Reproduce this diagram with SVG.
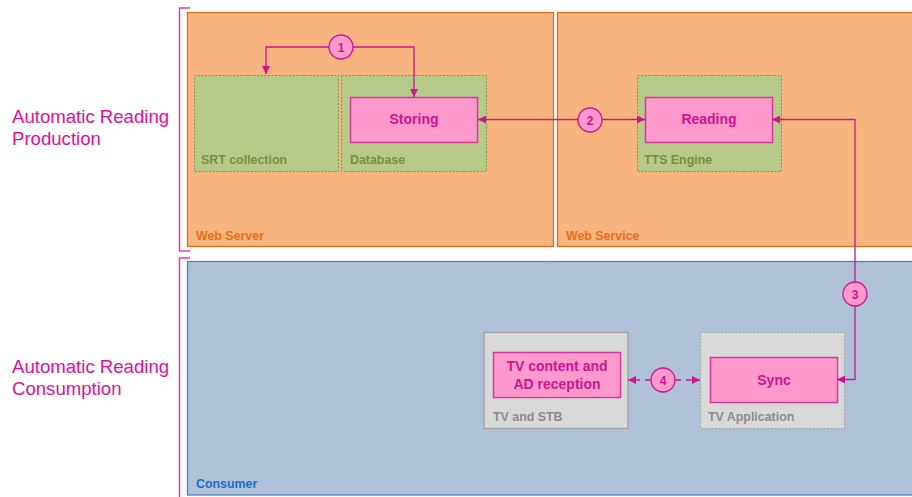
<svg xmlns="http://www.w3.org/2000/svg" width="912" height="497" viewBox="0 0 912 497">
  <defs>
    <marker id="arr" viewBox="0 0 10 10" refX="10" refY="5" markerWidth="8" markerHeight="8" markerUnits="userSpaceOnUse" orient="auto-start-reverse">
      <path d="M0,0 L10,5 L0,10 Z" fill="#CC1493"/>
    </marker>
  </defs>
  <style>
    text { font-family: "Liberation Sans", Arial, sans-serif; }
    .zone { fill: #F7B47E; stroke: #E26F1E; stroke-width: 1.3; }
    .zoneL { font-size: 12.4px; font-weight: bold; fill: #E2701E; }
    .consumer { fill: #AFC1D9; stroke: #4F7FC0; stroke-width: 1.3; }
    .consL { font-size: 12.4px; font-weight: bold; fill: #1A70C8; }
    .grp { fill: #B6C988; stroke: #7A9850; stroke-width: 1; stroke-dasharray: 2 1.5; }
    .grpL { font-size: 12.4px; font-weight: bold; fill: #77903F; }
    .dev { fill: #D9D9D9; stroke: #A0A0A0; stroke-width: 1.3; }
    .devD { fill: #D9D9D9; stroke: #A0A0A0; stroke-width: 1; stroke-dasharray: 2 1.5; }
    .devL { font-size: 12.4px; font-weight: bold; fill: #8C8C8C; }
    .task { fill: #FF99CC; stroke: #D6389C; stroke-width: 1.5; }
    .taskL { font-size: 14px; font-weight: bold; fill: #CC1493; text-anchor: middle; }
    .step { fill: #FF99CC; stroke: #CC1493; stroke-width: 1.3; }
    .stepL { font-size: 12px; font-weight: bold; fill: #CC1493; text-anchor: middle; }
    .link { fill: none; stroke: #CC1493; stroke-width: 1.3; }
    .dash { stroke-dasharray: 6 5; }
    .brace { fill: none; stroke: #E040A8; stroke-width: 1.5; }
    .side { font-size: 18.6px; fill: #E0109A; }
  </style>

  <!-- side brackets and phase labels -->
  <g id="phase-production">
    <path class="brace" d="M190,8 H179.5 V251 H190"/>
    <text class="side" x="12" y="123">Automatic Reading</text>
    <text class="side" x="12" y="145">Production</text>
  </g>
  <g id="phase-consumption">
    <path class="brace" d="M190,258 H179.5 V497"/>
    <text class="side" x="12" y="373">Automatic Reading</text>
    <text class="side" x="12" y="395">Consumption</text>
  </g>

  <!-- containers -->
  <g id="web-server">
    <rect class="zone" x="187.5" y="12.5" width="366" height="234"/>
    <text class="zoneL" x="196" y="240">Web Server</text>
  </g>
  <g id="web-service">
    <rect class="zone" x="557.5" y="12.5" width="360" height="234"/>
    <text class="zoneL" x="566" y="240">Web Service</text>
  </g>
  <g id="consumer">
    <rect class="consumer" x="187.5" y="261.5" width="730" height="233.5"/>
    <text class="consL" x="196" y="488">Consumer</text>
  </g>

  <g id="srt-collection">
    <rect class="grp" x="194.5" y="75.5" width="144" height="96"/>
    <text class="grpL" x="201" y="164">SRT collection</text>
  </g>
  <g id="database">
    <rect class="grp" x="341.5" y="75.5" width="145" height="96"/>
    <text class="grpL" x="350" y="164">Database</text>
  </g>
  <g id="storing">
    <rect class="task" x="350.5" y="97.5" width="127" height="45"/>
    <text class="taskL" x="414" y="124">Storing</text>
  </g>
  <g id="tts-engine">
    <rect class="grp" x="637.5" y="75.5" width="144" height="96"/>
    <text class="grpL" x="644" y="164">TTS Engine</text>
  </g>
  <g id="reading">
    <rect class="task" x="645.5" y="97.5" width="127" height="45"/>
    <text class="taskL" x="709" y="124">Reading</text>
  </g>

  <g id="tv-stb">
    <rect class="dev" x="484" y="332.5" width="144" height="96"/>
    <text class="devL" x="493" y="421">TV and STB</text>
  </g>
  <g id="tv-content">
    <rect class="task" x="493.5" y="352.5" width="127" height="45"/>
    <text class="taskL" x="557" y="371">TV content and</text>
    <text class="taskL" x="557" y="389">AD reception</text>
  </g>
  <g id="tv-application">
    <rect class="devD" x="700.5" y="332.5" width="144" height="96"/>
    <text class="devL" x="708" y="421">TV Application</text>
  </g>
  <g id="sync">
    <rect class="task" x="710.5" y="357.5" width="127" height="45"/>
    <text class="taskL" x="774" y="385">Sync</text>
  </g>

  <!-- connectors -->
  <g id="connectors">
    <path class="link" d="M329,47 H266 V74" marker-end="url(#arr)"/>
    <path class="link" d="M353,47 H414 V97" marker-end="url(#arr)"/>
    <path class="link" d="M578,119.5 H478" marker-end="url(#arr)"/>
    <path class="link" d="M602,119.5 H645" marker-end="url(#arr)"/>
    <path class="link" d="M855,282 V119.5 H772" marker-end="url(#arr)"/>
    <path class="link" d="M855,306 V379.5 H837" marker-end="url(#arr)"/>
    <path class="link dash" d="M651,380 H628" marker-end="url(#arr)"/>
    <path class="link dash" d="M675,380 H700" marker-end="url(#arr)"/>

    <g id="step-1">
      <circle class="step" cx="341" cy="47" r="12"/>
      <text class="stepL" x="341" y="51.5">1</text>
    </g>
    <g id="step-2">
      <circle class="step" cx="590" cy="120" r="12"/>
      <text class="stepL" x="590" y="124.5">2</text>
    </g>
    <g id="step-3">
      <circle class="step" cx="855" cy="294" r="12"/>
      <text class="stepL" x="855" y="298.5">3</text>
    </g>
    <g id="step-4">
      <circle class="step" cx="663" cy="380" r="12"/>
      <text class="stepL" x="663" y="384.5">4</text>
    </g>
  </g>
</svg>
